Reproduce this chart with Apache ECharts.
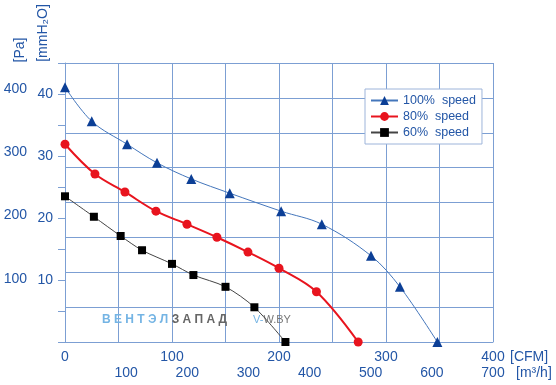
<!DOCTYPE html>
<html>
<head>
<meta charset="utf-8">
<script src="https://cdn.jsdelivr.net/npm/echarts@6/dist/echarts.min.js"></script>
<style>html,body{margin:0;padding:0;background:#fff}#c{width:556px;height:385px}</style>
</head>
<body>
<div id="c"></div>
<script>
// Airflow in CFM, pressure in mmH2O
var cfm100 = [0, 25, 58, 86, 118, 154, 202, 240, 286, 313, 348];
var p100   = [41.1, 35.6, 31.9, 28.9, 26.3, 24.0, 21.1, 19.0, 13.9, 8.9, 0];
var cfm80  = [0, 28, 56, 85, 114, 142, 171, 200, 235, 274];
var p80    = [31.9, 27.1, 24.2, 21.1, 19.0, 16.9, 14.5, 11.9, 8.1, 0];
var cfm60  = [0, 27, 52, 72, 100, 120, 150, 177, 206];
var p60    = [23.5, 20.2, 17.1, 14.8, 12.6, 10.8, 8.9, 5.6, 0];
var seriesNames = ['100%  speed', '80%  speed', '60%  speed'];
var cfmTicks = [0, 100, 200, 300, 400];
var m3hTicks = [100, 200, 300, 400, 500, 600, 700];
var paTicks = [100, 200, 300, 400];
var mmTicks = [10, 20, 30, 40];

function pairs(xs, ys) { return xs.map(function (x, i) { return [x, ys[i]]; }); }

var txt = '#2356a6';
var gridc = '#7c9fd3';
var font = 'Liberation Sans';

var chart = echarts.init(document.getElementById('c'), null, {renderer: 'canvas'});
chart.setOption({
  animation: false,
  textStyle: {fontFamily: font},
  grid: {left: 65, top: 63, right: 63, bottom: 43},
  xAxis: [{
    type: 'value', min: 0, max: 400, interval: 50, position: 'bottom',
    axisLine: {show: true, lineStyle: {color: gridc, width: 1}},
    axisTick: {show: false},
    splitLine: {show: true, lineStyle: {color: gridc, width: 1}},
    axisLabel: {color: txt, fontSize: 14, margin: 8, fontFamily: font,
      formatter: function (v) { return cfmTicks.indexOf(v) >= 0 ? String(v) : ''; }}
  }, {
    type: 'value', min: 0, max: 700, interval: 100, position: 'bottom', offset: 16,
    axisLine: {show: false}, axisTick: {show: false}, splitLine: {show: false},
    axisLabel: {color: txt, fontSize: 14, margin: 8, fontFamily: font,
      formatter: function (v) { return m3hTicks.indexOf(v) >= 0 ? String(v) : ''; }}
  }],
  yAxis: [{
    type: 'value', min: 0, max: 8, interval: 1, position: 'left',
    axisLine: {show: true, lineStyle: {color: gridc, width: 1}},
    axisTick: {show: false}, axisLabel: {show: false},
    splitLine: {show: true, lineStyle: {color: gridc, width: 1}}
  }, {
    type: 'value', min: 0, max: 45, interval: 5, position: 'left',
    axisLine: {show: false},
    axisTick: {show: true, inside: false, length: 7, lineStyle: {color: gridc}},
    splitLine: {show: false},
    axisLabel: {color: txt, fontSize: 14, margin: 12, fontFamily: font,
      formatter: function (v) { return mmTicks.indexOf(v) >= 0 ? String(v) : ''; }}
  }, {
    type: 'value', min: 0, max: 441.3, interval: 100, position: 'left',
    axisLine: {show: false}, axisTick: {show: false}, splitLine: {show: false},
    axisLabel: {color: txt, fontSize: 14, margin: 38, fontFamily: font,
      formatter: function (v) { return paTicks.indexOf(v) >= 0 ? String(v) : ''; }}
  }],
  legend: {
    left: 365, top: 89, orient: 'vertical',
    data: seriesNames,
    backgroundColor: '#fff', borderColor: '#9db4da', borderWidth: 1,
    padding: [5, 6, 5, 5], itemGap: 3, itemWidth: 27, itemHeight: 11,
    textStyle: {color: txt, fontSize: 12.5, fontFamily: font}
  },
  series: [{
    name: seriesNames[0], type: 'line', xAxisIndex: 0, yAxisIndex: 1,
    data: pairs(cfm100, p100), smooth: 0.35,
    symbol: 'triangle', symbolSize: 10,
    lineStyle: {color: '#4476bb', width: 1},
    itemStyle: {color: '#0c3f96'}, z: 5
  }, {
    name: seriesNames[1], type: 'line', xAxisIndex: 0, yAxisIndex: 1,
    data: pairs(cfm80, p80), smooth: 0.35,
    symbol: 'circle', symbolSize: 9,
    lineStyle: {color: '#e8141e', width: 2},
    itemStyle: {color: '#e8141e'}, z: 5
  }, {
    name: seriesNames[2], type: 'line', xAxisIndex: 0, yAxisIndex: 1,
    data: pairs(cfm60, p60), smooth: 0.3,
    symbol: 'rect', symbolSize: 8,
    lineStyle: {color: '#444', width: 1},
    itemStyle: {color: '#000'}, z: 5
  }],
  graphic: [
    {type: 'text', x: 20, y: 50, rotation: Math.PI / 2,
      style: {text: '[Pa]', fill: txt, font: '14px "Liberation Sans"', align: 'center', verticalAlign: 'middle'}},
    {type: 'text', x: 43, y: 33, rotation: Math.PI / 2,
      style: {text: '[mmH₂O]', fill: txt, font: '14px "Liberation Sans"', align: 'center', verticalAlign: 'middle'}},
    {type: 'text', x: 510, y: 357,
      style: {text: '[CFM]', fill: txt, font: '14px "Liberation Sans"', align: 'left', verticalAlign: 'middle'}},
    {type: 'text', x: 516, y: 373,
      style: {text: '[m³/h]', fill: txt, font: '14px "Liberation Sans"', align: 'left', verticalAlign: 'middle'}},
    {type: 'text', x: 102, y: 320, z: 1,
      style: {text: '{a|В Е Н Т Э Л }{b|З А П А Д}', verticalAlign: 'middle',
        rich: {a: {fill: '#74b4e4', fontSize: 12, fontWeight: 'bold', fontFamily: font},
               b: {fill: '#666', fontSize: 12, fontWeight: 'bold', fontFamily: font}}}},
    {type: 'text', x: 253, y: 320, z: 1,
      style: {text: '{a|V-}{b|W.BY}', verticalAlign: 'middle',
        rich: {a: {fill: '#74b4e4', fontSize: 11, fontFamily: font},
               b: {fill: '#777', fontSize: 11, fontFamily: font}}}}
  ]
});
</script>
</body>
</html>
